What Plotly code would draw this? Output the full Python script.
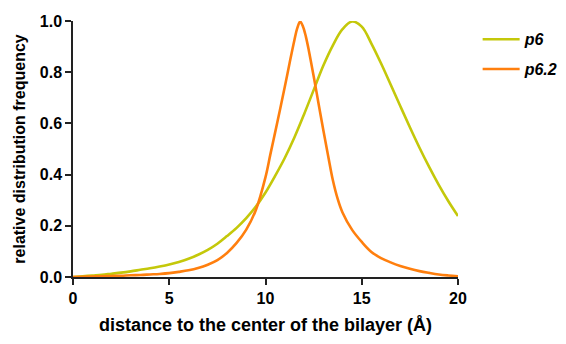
import plotly.graph_objects as go

x_p6 = [0, 0.5, 1, 1.5, 2, 2.5, 3, 3.5, 4, 4.5, 5, 5.5, 6, 6.5, 7, 7.5, 8, 8.5, 9, 9.5,
        10, 10.5, 11, 11.5, 12, 12.5, 13, 13.5, 14, 14.5, 15, 15.5, 16, 16.5, 17, 17.5,
        18, 18.5, 19, 19.5, 20]
y_p6 = [0.0, 0.003, 0.006, 0.009, 0.013, 0.017, 0.022, 0.028, 0.034, 0.041, 0.049, 0.059,
        0.071, 0.087, 0.106, 0.130, 0.160, 0.192, 0.230, 0.275, 0.330, 0.395, 0.465, 0.545,
        0.635, 0.730, 0.825, 0.905, 0.968, 0.998, 0.978, 0.912, 0.835, 0.752, 0.668, 0.585,
        0.505, 0.430, 0.360, 0.296, 0.238]

x_p62 = [0, 0.5, 1, 1.5, 2, 2.5, 3, 3.5, 4, 4.5, 5, 5.5, 6, 6.5, 7, 7.5, 8, 8.5, 9, 9.5,
         10, 10.25, 10.5, 10.75, 11, 11.25, 11.5, 11.65, 11.8, 11.95, 12.1, 12.25, 12.5,
         12.75, 13, 13.25, 13.5, 13.75, 14, 14.5, 15, 15.5, 16, 16.5, 17, 17.5, 18, 18.5,
         19, 19.5, 20]
y_p62 = [0.0, 0.001, 0.002, 0.003, 0.004, 0.005, 0.007, 0.008, 0.010, 0.012, 0.015, 0.020,
         0.026, 0.035, 0.048, 0.066, 0.094, 0.133, 0.185, 0.262, 0.390, 0.478, 0.565, 0.652,
         0.742, 0.835, 0.925, 0.972, 0.998, 0.978, 0.938, 0.885, 0.785, 0.680, 0.575, 0.475,
         0.378, 0.305, 0.252, 0.184, 0.137, 0.098, 0.074, 0.057, 0.043, 0.032, 0.023, 0.016,
         0.010, 0.006, 0.003]

x_ticks = [0, 5, 10, 15, 20]
y_ticks = [0.0, 0.2, 0.4, 0.6, 0.8, 1.0]
y_tick_labels = ["0.0", "0.2", "0.4", "0.6", "0.8", "1.0"]

FONT = "Liberation Sans, Arial"

fig = go.Figure()
fig.add_trace(go.Scatter(x=x_p6, y=y_p6, mode="lines", name="<b><i>p6</i></b>",
                         legendgroup="a",
                         line=dict(color="#c4c80a", width=2.6, shape="spline", smoothing=1.0)))
fig.add_trace(go.Scatter(x=x_p62, y=y_p62, mode="lines", name="<b><i>p6.2</i></b>",
                         legendgroup="b",
                         line=dict(color="#ff7f0e", width=2.6, shape="spline", smoothing=1.0)))

fig.update_layout(
    width=566, height=344,
    margin=dict(l=73, r=108, t=21, b=67, autoexpand=False),
    paper_bgcolor="white", plot_bgcolor="white",
    font=dict(family=FONT, color="black"),
    legend=dict(x=1.051, y=0.995, xanchor="left", yanchor="top",
                font=dict(size=16, family=FONT, color="black"),
                itemwidth=37, tracegroupgap=6, bgcolor="rgba(0,0,0,0)"),
    xaxis=dict(range=[0, 20], tickvals=x_ticks, showgrid=False, zeroline=False,
               showline=True, linecolor="#222", linewidth=1.5,
               ticks="outside", ticklen=6, tickwidth=1.5, tickcolor="#222",
               tickfont=dict(size=16, family=FONT, weight="bold"),
               title=dict(text="<b>distance to the center of the bilayer (Å)</b>",
                          font=dict(size=18, family=FONT), standoff=12)),
    yaxis=dict(range=[0, 1], tickvals=y_ticks, ticktext=y_tick_labels, showgrid=False,
               zeroline=False, showline=True, linecolor="#222", linewidth=1.5,
               ticks="outside", ticklen=6, tickwidth=1.5, tickcolor="#222",
               tickfont=dict(size=16, family=FONT, weight="bold"),
               title=dict(text="<b>relative distribution frequency</b>",
                          font=dict(size=16, family=FONT), standoff=10)),
)

fig.write_html("out.html")
